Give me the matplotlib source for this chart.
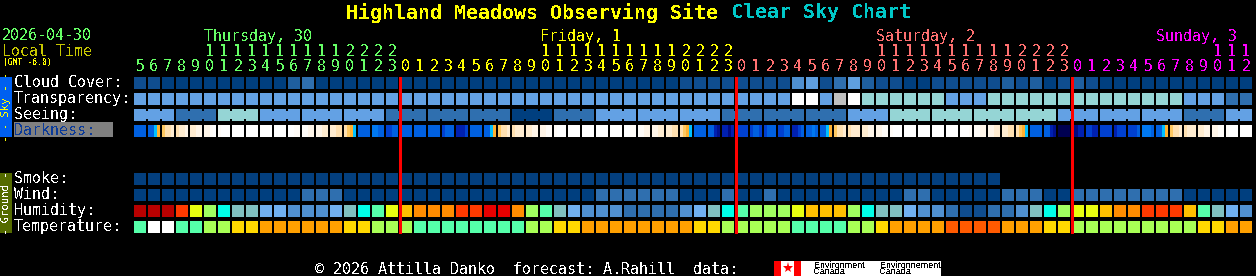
import matplotlib
matplotlib.use('Agg')
import matplotlib.pyplot as plt

plt.rcParams['text.antialiased'] = False
MONO = 'DejaVu Sans Mono'

# hours along the top, first cell is 5 o'clock Thursday
hours = [5, 6, 7, 8, 9, 10, 11, 12, 13, 14, 15, 16, 17, 18, 19, 20, 21, 22, 23] + list(range(24)) + list(range(24)) + list(range(13))
day_names = ['Thursday, 30', 'Friday, 1', 'Saturday, 2', 'Sunday, 3']
day_first_cell = [5, 29, 53, 73]
midnight_cells = [19, 43, 67]

# levels index into the palettes below
cloud = [1, 1, 0, 0, 0, 0, 0, 0, 0, 0, 0, 2, 3, 0, 0, 0, 0, 0, 0, 0,
         0, 0, 0, 0, 0, 0, 0, 0, 0, 0, 0, 0, 0, 0, 0, 0, 0, 0, 0, 1,
         1, 1, 1, 1, 1, 1, 1, 4, 5, 1, 3, 5, 2, 1, 1, 0, 0, 1, 1, 1,
         1, 1, 2, 1, 2, 0, 1, 2, 1, 0, 0, 0, 0, 0, 0, 0, 0, 0, 0, 0]
transparency = [0] * 47 + [2, 2, 0, 3, 2] + [1] * 6 + [0, 0, 0] + [1] * 14 + [0, 0, 0, 4, 4]
seeing_blocks = [0, 1, 2, 0, 0, 0, 1, 1, 1, 3, 1, 0, 0, 0, 1, 1, 1, 0, 2, 2, 2, 2, 0, 0, 0, 1, 0]
darkness = ['BBBB', 'BBCK', 'Oppq', 'pqqr', 'qqrr', 'rrsW', 'sWWW', 'WWWW', 'WWWW', 'WWWW',
            'WWWW', 'WWss', 'ssrr', 'rrqq', 'qqpp', 'pOKC', 'BBBB', 'aaBB', 'bbBB', 'BBBB',
            'BBBB', 'BBBB', 'bBBB', 'dddb', 'BBBB', 'BBCK', 'Oppq', 'pqqq', 'qqrr', 'rrss',
            'sWWW', 'WWWW', 'WWWW', 'WWWW', 'WWWW', 'WWss', 'ssrr', 'rrqq', 'qqpp', 'pOKC',
            'BBBB', 'BBdD', 'ddNd', 'bbbb', 'bBBb', 'bBBB', 'bbBB', 'ddbB', 'BBaB', 'BBCK',
            'Oppq', 'pqqq', 'qqrr', 'rrss', 'sWWW', 'WWWW', 'WWWW', 'WWWW', 'WWWW', 'WWWs',
            'ssrr', 'rrqq', 'qqpp', 'pOKC', 'BBBB', 'BBdD', 'nnnn', 'NNdd', 'bbdd', 'bbbb',
            'dbbb', 'bbbB', 'aaaB', 'BBCK', 'Oppq', 'pqqq', 'qqrr', 'rrss', 'sWWW', 'WWWW']
smoke_cells = 62
wind = [0] * 12 + [1, 1, 1] + [0] * 18 + [1] * 6 + [0, 0, 0, 1, 0, 0, 1] + [0] * 9 + [1, 1] + [0] * 5 + [1, 1, 1, 0, 0] + [1] * 8 + [0] * 5
humidity = [0, 0, 0, 1, 3, 4, 5, 6, 6, 7, 7, 8, 8, 8, 7, 6, 5, 11, 3, 2,
            13, 13, 13, 1, 1, 12, 12, 13, 4, 11, 6, 7, 8, 8, 8, 9, 9, 9, 9, 8,
            7, 6, 5, 11, 4, 4, 4, 3, 2, 2, 2, 4, 5, 6, 6, 7, 8, 8, 9, 10,
            10, 9, 9, 8, 6, 5, 4, 3, 3, 2, 13, 13, 1, 1, 1, 2, 11, 6, 7, 8]
temperature = [0, 4, 4, 0, 0, 1, 1, 2, 2, 3, 3, 3, 3, 3, 3, 2, 2, 1, 1, 1,
               0, 0, 0, 0, 0, 0, 0, 0, 1, 1, 2, 2, 3, 3, 3, 3, 3, 3, 3, 3,
               2, 2, 1, 1, 1, 1, 1, 0, 0, 0, 0, 1, 1, 2, 3, 3, 3, 3, 5, 5,
               5, 5, 3, 3, 3, 2, 2, 1, 1, 1, 1, 1, 1, 1, 1, 1, 2, 2, 3, 3]

cloud_colors = ['#003f7f', '#0f4d8f', '#1f5f9f', '#2f6faf', '#4f8fcf', '#5f9fdf']
transp_colors = ['#63a1e4', '#95d5d5', '#ffffff', '#c0c0c0', '#2f6faf']
seeing_colors = ['#63a1e4', '#2f6faf', '#95d5d5', '#003f7f']
dark_colors = {'n': '#000050', 'N': '#000a80', 'D': '#001090', 'd': '#0020b0', 'b': '#0040d0',
               'B': '#0060e0', 'a': '#0078f0', 'C': '#00c0ff', 'K': '#ffb030', 'O': '#ffc860',
               'p': '#ffe0b0', 'q': '#ffecd0', 'r': '#fff5e8', 's': '#fffcf8', 'W': '#ffffff'}
humid_colors = ['#b80000', '#ff3a00', '#ffc000', '#e8ff10', '#a0ff60', '#00ffe8', '#80c0c0',
                '#70b0f0', '#5090d0', '#2f6faf', '#0f4d8f', '#55ffaa', '#e80000', '#ff8c00']
temp_colors = ['#55ffaa', '#a8ff55', '#ffd800', '#ffa000', '#ffffff', '#ff5a00']
day_colors = ['#66ff66', '#ffff00', '#ff7070', '#ff00ff']

x0, step, cell = 134, 14, 12
row_top = {'cloud': 77, 'transparency': 93, 'seeing': 109, 'darkness': 125,
           'smoke': 173, 'wind': 189, 'humidity': 205, 'temperature': 221}

fig = plt.figure(figsize=(12.56, 2.76), dpi=100, facecolor='black')
ax = fig.add_axes([0, 0, 1, 1])
ax.set_xlim(0, 1256)
ax.set_ylim(276, 0)
ax.axis('off')


def px_text(x, y, s, color='white', size=15, **kw):
    kw.setdefault('family', MONO)
    ax.text(x, y, s, color=color, fontsize=size * 0.72, va='center', **kw)


def draw_row(values, palette, top):
    for i, v in enumerate(values):
        ax.bar(x0 + step * i, cell, cell, bottom=top, align='edge', color=palette[v], linewidth=0, antialiased=False)


draw_row(cloud, cloud_colors, row_top['cloud'])
draw_row(transparency, transp_colors, row_top['transparency'])
draw_row(wind, cloud_colors[::3], row_top['wind'])
draw_row(humidity, humid_colors, row_top['humidity'])
draw_row(temperature, temp_colors, row_top['temperature'])
draw_row([0] * smoke_cells, ['#033f7e'], row_top['smoke'])

# seeing is forecast in 3 hour blocks, cells of a block are joined by a neck
for b, level in enumerate(seeing_blocks):
    for k in range(3):
        i = b * 3 + k
        if i >= len(hours):
            break
        ax.bar(x0 + step * i, cell, cell, bottom=row_top['seeing'], align='edge',
               color=seeing_colors[level], linewidth=0, antialiased=False)
        if k < 2 and i + 1 < len(hours):
            ax.bar(x0 + step * i + cell, 8, step - cell, bottom=row_top['seeing'] + 2, align='edge',
                   color=seeing_colors[level], linewidth=0, antialiased=False)

# darkness changes inside the hour, four strips per cell
for i, strips in enumerate(darkness):
    for k, c in enumerate(strips):
        ax.bar(x0 + step * i + 3 * k, cell, 3, bottom=row_top['darkness'], align='edge',
               color=dark_colors[c], linewidth=0, antialiased=False)

# midnight markers
for i in midnight_cells:
    ax.vlines(x0 + step * i, row_top['cloud'], row_top['temperature'] + cell, color='#ff0000',
              linewidth=2.16, antialiased=False, zorder=5)

# header
px_text(346, 13, 'Highland Meadows Observing Site', color='#ffff00', size=20, fontweight='bold')
px_text(731, 13, 'Clear Sky Chart', color='#00c8c8', size=20, fontweight='bold')
px_text(2, 36, '2026-04-30', color='#66ff66')
px_text(2, 51.5, 'Local Time', color='#c8c800')
px_text(3, 62, '(GMT -6.0)', color='#ffff00', size=8)

day = 0
for i, h in enumerate(hours):
    if i > 0 and h == 0:
        day += 1
    px_text(x0 + step * i + 6, 66.5, str(h % 10), color=day_colors[day], ha='center')
    if h >= 10:
        px_text(x0 + step * i + 6, 51.5, str(h // 10), color=day_colors[day], ha='center')

for name, first, c in zip(day_names, day_first_cell, day_colors):
    px_text(x0 + step * first + 0.5, 36, name, color=c)

# row labels
labels = ['Cloud Cover:', 'Transparency:', 'Seeing:', 'Darkness:', 'Smoke:', 'Wind:', 'Humidity:', 'Temperature:']
for lab, key in zip(labels, row_top):
    if lab == 'Darkness:':
        ax.bar(14, 15, 99, bottom=122, align='edge', color='#808080', linewidth=0, antialiased=False)
        px_text(14, row_top[key] + 5.5, lab, color='#0a3a9a')
    else:
        px_text(14, row_top[key] + 5.5, lab)

# side strips
ax.bar(0, 60, 12, bottom=77, align='edge', color='#0060f0', linewidth=0, antialiased=False)
ax.bar(0, 60, 12, bottom=173, align='edge', color='#556b00', linewidth=0, antialiased=False)
px_text(6, 107, '- - Sky - -', color='#ffff00', size=10.5, rotation=90, ha='center')
px_text(6, 203, '- Ground -', size=10.5, rotation=90, ha='center')

# footer
px_text(315, 269, '\u00a9 2026 Attilla Danko  forecast: A.Rahill  data:')
ax.bar(774, 15, 167, bottom=261, align='edge', color='white', linewidth=0, antialiased=False)
ax.bar(774, 15, 7, bottom=261, align='edge', color='#ff0000', linewidth=0, antialiased=False)
ax.bar(794, 15, 7, bottom=261, align='edge', color='#ff0000', linewidth=0, antialiased=False)
ax.plot([787.5], [268], marker='*', color='#ff0000', markersize=8, markeredgewidth=0)
for x, a, b in [(814, 'Environment', 'Canada'), (880, 'Environnement', 'Canada')]:
    px_text(x, 265, a, color='black', size=9, family='Liberation Sans')
    px_text(x, 272, b, color='black', size=9, family='Liberation Sans')

fig.savefig('out.png', dpi=100, facecolor='black')
